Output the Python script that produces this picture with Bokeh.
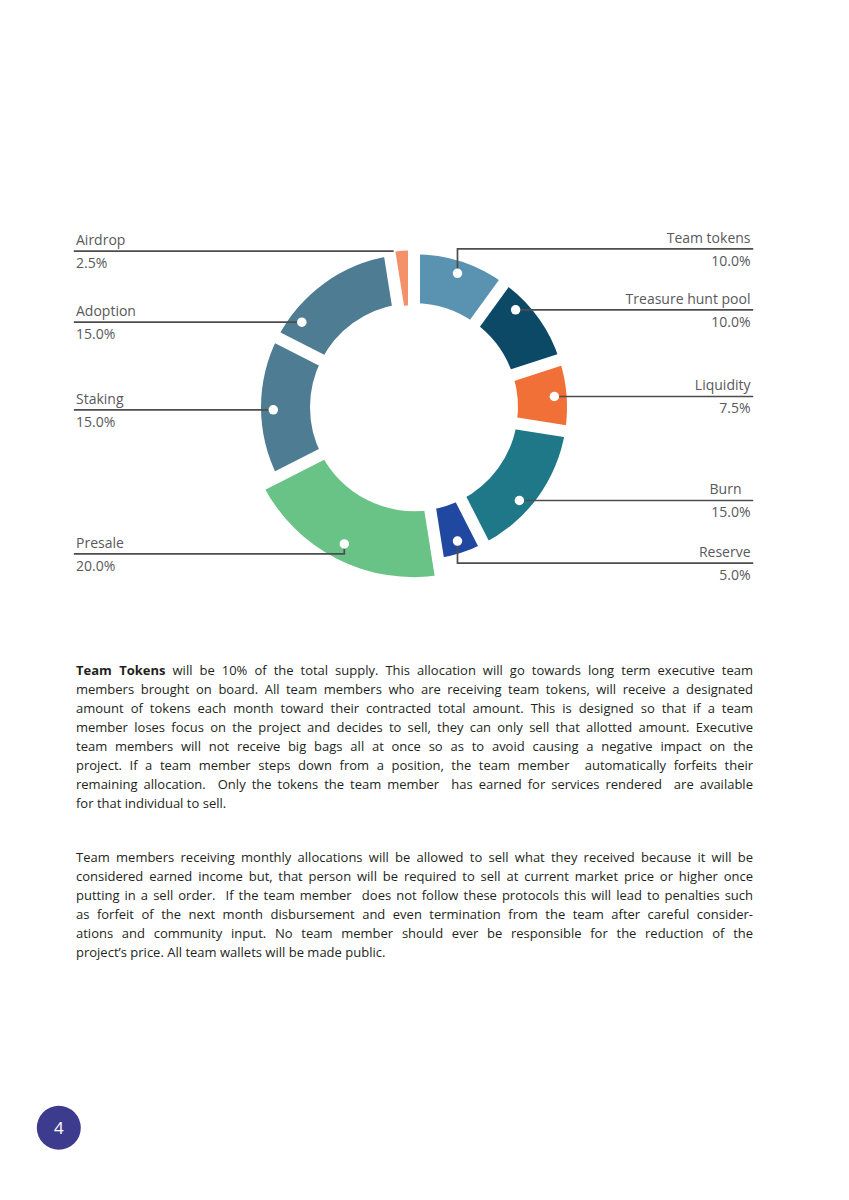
import math
from bokeh.plotting import figure
from bokeh.models import Range1d, ColumnDataSource
from bokeh.core.properties import value
from bokeh.embed import file_html
from bokeh.resources import INLINE

# ---------------- data ----------------
categories = ["Team tokens", "Treasure hunt pool", "Liquidity", "Burn", "Reserve",
              "Presale", "Staking", "Adoption", "Airdrop"]
shares = [10.0, 10.0, 7.5, 15.0, 5.0, 20.0, 15.0, 15.0, 2.5]
colors = ["#5a93b1", "#0b4966", "#f07037", "#1e7888", "#2148a0",
          "#69c286", "#4e7c93", "#4e7c93", "#f4916a"]
page_number = "4"

paragraph_1 = [
    "Team Tokens will be 10% of the total supply. This allocation will go towards long term executive team",
    "members brought on board. All team members who are receiving team tokens, will receive a designated",
    "amount of tokens each month toward their contracted total amount. This is designed so that if a team",
    "member loses focus on the project and decides to sell, they can only sell that allotted amount. Executive",
    "team members will not receive big bags all at once so as to avoid causing a negative impact on the",
    "project. If a team member steps down from a position, the team member  automatically forfeits their",
    "remaining allocation.  Only the tokens the team member  has earned for services rendered  are available",
    "for that individual to sell.",
]
paragraph_2 = [
    "Team members receiving monthly allocations will be allowed to sell what they received because it will be",
    "considered earned income but, that person will be required to sell at current market price or higher once",
    "putting in a sell order.  If the team member  does not follow these protocols this will lead to penalties such",
    "as forfeit of the next month disbursement and even termination from the team after careful consider-",
    "ations and community input. No team member should ever be responsible for the reduction of the",
    "project\u2019s price. All team wallets will be made public.",
]

# ---------------- layout / style ----------------
W, H = 845, 1195
CX, CY = 413.5, 406.7          # donut centre (page px)
R_IN, R_OUT = 104.0, 153.0
RADII_OVERRIDE = {"Presale": (104.0, 170.0), "Airdrop": (102.0, 157.0)}
GAP = 12
LINE_Y = {"Team tokens": 248.3, "Treasure hunt pool": 309.3, "Liquidity": 396.0,
          "Burn": 500.0, "Reserve": 562.7, "Presale": 553.3, "Staking": 409.3,
          "Adoption": 321.7, "Airdrop": 250.7}
RIGHT = {"Team tokens", "Treasure hunt pool", "Liquidity", "Burn", "Reserve"}
VERTICAL = {"Team tokens", "Reserve", "Presale"}
NO_DOT = {"Airdrop"}
NAME_DX = {"Burn": -9.0}
LEFT_X, RIGHT_X = 73.3, 752.7
LABEL_COLOR = "#58595b"
LEAD_COLOR = "#4d4d4f"
FONT = "Open Sans"
BASE_FIX = 0.4   # alphabetic baseline correction (fraction of font size)

def Y(v):
    return -v

p = figure(width=W, height=H, x_range=Range1d(0, W), y_range=Range1d(-H, 0),
           toolbar_location=None, output_backend="svg", x_axis_type=None, y_axis_type=None,
           min_border=0)
p.outline_line_color = None
p.background_fill_color = "white"
p.border_fill_color = "white"

# ---------------- donut ----------------
cum = [0.0]
for s in shares:
    cum.append(cum[-1] + s)
total = cum[-1]
a0 = [c / total * 360 for c in cum[:-1]]
a1 = [c / total * 360 for c in cum[1:]]

inner = [RADII_OVERRIDE.get(c, (R_IN, R_OUT))[0] for c in categories]
outer = [RADII_OVERRIDE.get(c, (R_IN, R_OUT))[1] for c in categories]
src = ColumnDataSource(dict(
    x=[CX] * len(categories), y=[Y(CY)] * len(categories),
    inner=inner, outer=outer,
    start=[math.radians(90 - b) for b in a1],
    end=[math.radians(90 - a) for a in a0],
    color=colors))
p.annular_wedge(x="x", y="y", inner_radius="inner", outer_radius="outer",
                start_angle="start", end_angle="end", fill_color="color",
                line_color=None, source=src)

# white constant-width gaps along slice boundaries
gx0, gy0, gx1, gy1 = [], [], [], []
for b in a0:
    t = math.radians(b)
    gx0.append(CX + 90 * math.sin(t)); gy0.append(Y(CY - 90 * math.cos(t)))
    gx1.append(CX + 185 * math.sin(t)); gy1.append(Y(CY - 185 * math.cos(t)))
p.segment(gx0, gy0, gx1, gy1, line_color="white", line_width=GAP, line_cap="butt")

# ---------------- leader lines, dots, labels ----------------
LFS = 14.0
xs, ys, dx, dy = [], [], [], []
nx, ny, nt, px_, py_, pt = [], [], [], [], [], []
lx, ly, lt, lpx, lpy, lpt = [], [], [], [], [], []
for i, c in enumerate(categories):
    ly_ = LINE_Y[c]
    ri, ro = inner[i], outer[i]
    rd = ri + 0.75 * (ro - ri)
    mid = (a0[i] + a1[i]) / 2
    right = c in RIGHT
    if c in NO_DOT:
        ex = CX + ro * math.sin(math.radians(mid)) - 8
        xs.append([LEFT_X, ex]); ys.append([Y(ly_), Y(ly_)])
    elif c in VERTICAL:
        t = math.radians(mid)
        ddx, ddy = CX + rd * math.sin(t), CY - rd * math.cos(t)
        end = RIGHT_X if right else LEFT_X
        xs.append([ddx, ddx, end]); ys.append([Y(ddy), Y(ly_), Y(ly_)])
        dx.append(ddx); dy.append(Y(ddy))
    else:
        t = math.acos((CY - ly_) / rd)
        if not right:
            t = 2 * math.pi - t
        ddx = CX + rd * math.sin(t)
        end = RIGHT_X if right else LEFT_X
        xs.append([ddx, end]); ys.append([Y(ly_), Y(ly_)])
        dx.append(ddx); dy.append(Y(ly_))
    pct = f"{shares[i]:.1f}%"
    nb = ly_ - 6 - BASE_FIX * LFS
    pb = ly_ + 17 - BASE_FIX * LFS
    if right:
        nx.append(750.0 + NAME_DX.get(c, 0.0)); ny.append(Y(nb)); nt.append(c)
        px_.append(750.0); py_.append(Y(pb)); pt.append(pct)
    else:
        lx.append(75.5 + NAME_DX.get(c, 0.0)); ly.append(Y(nb)); lt.append(c)
        lpx.append(75.5); lpy.append(Y(pb)); lpt.append(pct)

p.multi_line(xs, ys, line_color=LEAD_COLOR, line_width=1.7, line_join="miter")
p.scatter(dx, dy, marker="circle", size=9.5, fill_color="white", line_color=None)

lab = dict(text_font=value(FONT), text_font_size=value(f"{LFS}px"), text_color=LABEL_COLOR,
           text_baseline="alphabetic")
p.text(nx + px_, ny + py_, nt + pt, text_align="right", **lab)
p.text(lx + lpx, ly + lpy, lt + lpt, text_align="left", **lab)

# ---------------- body text (justified, word by word) ----------------
OS = {' ': 532, 'a': 1139, 'b': 1255, 'c': 975, 'd': 1255, 'e': 1149, 'f': 694, 'g': 1122,
      'h': 1257, 'i': 518, 'j': 518, 'k': 1075, 'l': 518, 'm': 1905, 'n': 1257, 'o': 1237,
      'p': 1255, 'q': 1255, 'r': 836, 's': 977, 't': 723, 'u': 1257, 'v': 1026, 'w': 1593,
      'x': 1073, 'y': 1028, 'z': 977, 'A': 1296, 'B': 1327, 'C': 1292, 'D': 1493, 'E': 1139,
      'F': 1057, 'G': 1491, 'H': 1511, 'I': 571, 'J': 547, 'K': 1257, 'L': 1073, 'M': 1849,
      'N': 1544, 'O': 1595, 'P': 1233, 'Q': 1595, 'R': 1266, 'S': 1124, 'T': 1133, 'U': 1491,
      'V': 1219, 'W': 1896, 'X': 1182, 'Y': 1147, 'Z': 1169, '.': 545, ',': 502, '-': 659,
      '%': 1702, '\u2019': 358, "'": 446}
for d in "0123456789":
    OS[d] = 1171

def em(word, bold=False):
    w = sum(OS.get(ch, 1150) for ch in word) / 2048.0
    return w * (1.07 if bold else 1.0)

BOLD_LEAD = 2
TEXT_L, TEXT_R = 75.5, 752.5
TW = TEXT_R - TEXT_L

def tokens(line):
    words, spaces = [], []
    cur_sp = 0
    for part in line.split(" "):
        if part == "":
            cur_sp += 1
            continue
        spaces.append(cur_sp)
        words.append(part)
        cur_sp = 1
    spaces[0] = 0
    return words, spaces

paras = [(paragraph_1, 674.5), (paragraph_2, 861.5)]
max_nat = 0
for lines, _ in paras:
    for k, line in enumerate(lines):
        w, s = tokens(line)
        nat = sum(em(x, bold=(lines is paragraph_1 and k == 0 and j < BOLD_LEAD))
                  for j, x in enumerate(w)) + sum(s) * OS[' '] / 2048.0
        max_nat = max(max_nat, nat)
FS = min(13.0, 0.975 * TW / max_nat)

rx, ry, rt, bx, by, bt = [], [], [], [], [], []
for lines, y0 in paras:
    for k, line in enumerate(lines):
        w, s = tokens(line)
        bolds = [(lines is paragraph_1 and k == 0 and j < BOLD_LEAD) for j in range(len(w))]
        widths = [em(x, b) * FS for x, b in zip(w, bolds)]
        sp = OS[' '] / 2048.0 * FS
        nat = sum(widths) + sum(s) * sp
        last = (k == len(lines) - 1)
        extra = 0.0 if last or sum(s) == 0 else (TW - nat) / sum(s)
        x = TEXT_L
        yy = Y(y0 + 19.0 * k - BASE_FIX * FS)
        for j, word in enumerate(w):
            x += s[j] * (sp + extra)
            if bolds[j]:
                bx.append(x); by.append(yy); bt.append(word)
            else:
                rx.append(x); ry.append(yy); rt.append(word)
            x += widths[j]

body = dict(text_font=value(FONT), text_font_size=value(f"{FS:.2f}px"), text_color="#231f20",
            text_align="left", text_baseline="alphabetic")
p.text(rx, ry, rt, **body)
p.text(bx, by, bt, text_font_style="bold", **body)

# ---------------- page number ----------------
p.circle([58.3], [Y(1127.3)], radius=22, fill_color="#3d3b8e", line_color=None)
p.text([58.3], [Y(1127.3)], [page_number], text_font=value(FONT), text_font_size=value("17px"),
       text_color="white", text_align="center", text_baseline="middle")

open("out.html", "w").write(file_html(p, INLINE))
